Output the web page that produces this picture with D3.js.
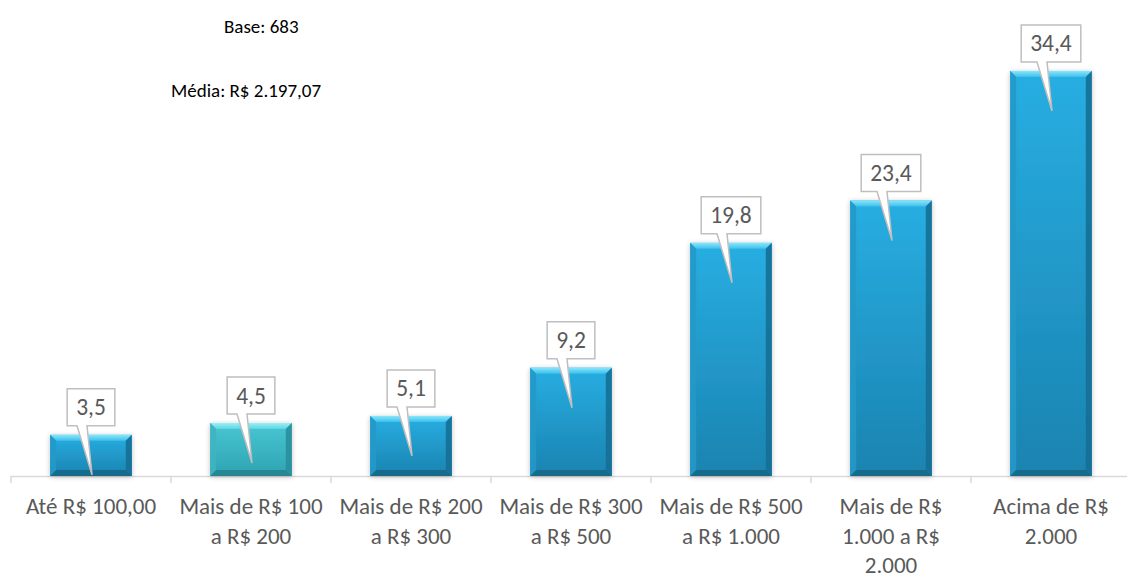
<!DOCTYPE html>
<html><head><meta charset="utf-8">
<script src="https://cdn.jsdelivr.net/npm/d3@7"></script>
<style>html,body{margin:0;padding:0;background:#fff;}svg{display:block;}</style>
</head><body>
<svg id="chart" width="1127" height="579"></svg>
<script>
const categories = ["Até R$ 100,00","Mais de R$ 100 a R$ 200","Mais de R$ 200 a R$ 300","Mais de R$ 300 a R$ 500","Mais de R$ 500 a R$ 1.000","Mais de R$ 1.000 a R$ 2.000","Acima de R$ 2.000"];
const tickLabels = [["Até R$ 100,00"],["Mais de R$ 100","a R$ 200"],["Mais de R$ 200","a R$ 300"],["Mais de R$ 300","a R$ 500"],["Mais de R$ 500","a R$ 1.000"],["Mais de R$","1.000 a R$","2.000"],["Acima de R$","2.000"]];
const values = [3.5, 4.5, 5.1, 9.2, 19.8, 23.4, 34.4];
const valueLabels = ["3,5","4,5","5,1","9,2","19,8","23,4","34,4"];
const notes = ["Base: 683", "Média: R$ 2.197,07"];

const svg = d3.select("#chart");
const W = 1127, H = 579;
const x = d3.scaleBand().domain(categories).range([11, 11 + 160*7]).paddingInner(0.49).paddingOuter(0.245);
const y = d3.scaleLinear().domain([0, 40]).range([476, 5]);
const font = "Calibri, Carlito, 'Open Sans', sans-serif";

const defs = svg.append("defs");
function grad(id, c1, c2){
  const g = defs.append("linearGradient").attr("id", id).attr("x1",0).attr("y1",0).attr("x2",0).attr("y2",1);
  g.append("stop").attr("offset","0%").attr("stop-color",c1);
  g.append("stop").attr("offset","100%").attr("stop-color",c2);
}
grad("gBlue", "#28aee2", "#1a83b0");
grad("gTeal", "#49c6d3", "#2ea3b1");
grad("gTopBlue", "#8ae6fb", "#3cc0ec");
grad("gTopTeal", "#98f0f7", "#5ad5e0");
const f = defs.append("filter").attr("id","sh").attr("x","-20%").attr("y","-20%").attr("width","140%").attr("height","140%");
f.append("feGaussianBlur").attr("in","SourceAlpha").attr("stdDeviation",2.5).attr("result","b");
f.append("feOffset").attr("in","b").attr("dx",0).attr("dy",1).attr("result","o");
f.append("feComponentTransfer").attr("in","o").attr("result","o2").append("feFuncA").attr("type","linear").attr("slope",0.25);
const m = f.append("feMerge"); m.append("feMergeNode").attr("in","o2"); m.append("feMergeNode").attr("in","SourceGraphic");

// axis baseline
const g0 = svg.append("g");
g0.append("line").attr("x1", 11).attr("x2", W).attr("y1", y(0)+0.5).attr("y2", y(0)+0.5)
  .attr("stroke", "#d9d9d9").attr("stroke-width", 1.5);
const bounds = categories.map(c => x(c) - (x.step()-x.bandwidth())/2);
bounds.forEach(b => g0.append("line").attr("x1", b).attr("x2", b).attr("y1", y(0)).attr("y2", y(0)+7)
  .attr("stroke", "#d9d9d9").attr("stroke-width", 1.5));

// bars
const bw = x.bandwidth(), bev = 6;
categories.forEach((c, i) => {
  const x0 = x(c), x1 = x0 + bw, yt = y(values[i]), yb = y(0);
  const teal = i === 1;
  const gb = svg.append("g").attr("filter", "url(#sh)");
  gb.append("rect").attr("x", x0).attr("y", yt).attr("width", bw).attr("height", yb - yt)
    .attr("fill", teal ? "url(#gTeal)" : "url(#gBlue)");
  gb.append("path").attr("d", `M${x0},${yt}L${x1},${yt}L${x1-bev},${yt+bev}L${x0+bev},${yt+bev}Z`)
    .attr("fill", teal ? "url(#gTopTeal)" : "url(#gTopBlue)");
  gb.append("path").attr("d", `M${x0},${yt}L${x0+bev},${yt+bev}L${x0+bev},${yb-bev}L${x0},${yb}Z`)
    .attr("fill", teal ? "#3fb4c0" : "#2199c9").attr("opacity", 0.9);
  gb.append("path").attr("d", `M${x1},${yt}L${x1-bev},${yt+bev}L${x1-bev},${yb-bev}L${x1},${yb}Z`)
    .attr("fill", teal ? "#2a8f9c" : "#176f96").attr("opacity", 0.9);
  gb.append("path").attr("d", `M${x0},${yb}L${x0+bev},${yb-bev}L${x1-bev},${yb-bev}L${x1},${yb}Z`)
    .attr("fill", teal ? "#27838f" : "#156788").attr("opacity", 0.9);
});

// callouts
categories.forEach((c, i) => {
  const cx = x(c) + bw/2, yt = y(values[i]);
  const t = svg.append("text").attr("x", cx).attr("y", 0).attr("text-anchor", "middle")
    .attr("font-family", font).attr("font-size", 23.5).attr("fill", "#595959").text(valueLabels[i]);
  const tw = t.node().getComputedTextLength();
  const w = tw + 18, h = 37;
  const bx0 = cx - w/2, bx1 = cx + w/2, byb = yt - 9, byt = byb - h;
  const tipY = Math.min(yt + 40, y(0));
  const p = `M${bx0},${byt}L${bx1},${byt}L${bx1},${byb}L${cx-4},${byb}L${cx+1},${tipY}L${cx-14},${byb}L${bx0},${byb}Z`;
  svg.append("path").attr("d", p).attr("fill", "#fff").attr("stroke", "#bfbfbf").attr("stroke-width", 1.5);
  t.attr("y", byt + h/2 + 8).raise();
});

// tick labels
categories.forEach((c, i) => {
  const cx = x(c) + bw/2;
  const t = svg.append("text").attr("text-anchor", "middle").attr("font-family", font)
    .attr("font-size", 23).attr("fill", "#595959");
  tickLabels[i].forEach((ln, k) => t.append("tspan").attr("x", cx).attr("y", 514 + k*29.5).text(ln));
});

// notes
svg.append("text").attr("x", 224).attr("y", 33).attr("font-family", font).attr("font-size", 19).attr("fill", "#000").text(notes[0]);
svg.append("text").attr("x", 171).attr("y", 97).attr("font-family", font).attr("font-size", 19).attr("fill", "#000").text(notes[1]);
</script>
</body></html>
